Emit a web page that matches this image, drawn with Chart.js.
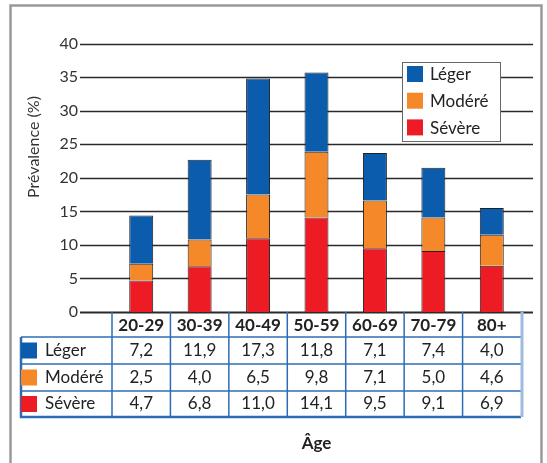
<!DOCTYPE html>
<html>
<head>
<meta charset="utf-8">
<script src="https://cdn.jsdelivr.net/npm/chart.js@4/dist/chart.umd.min.js"></script>
<style>
  html, body { margin: 0; padding: 0; background: #fff; }
</style>
</head>
<body>
<canvas id="myChart" width="547" height="463"></canvas>
<script>
const ageGroups = ["20-29", "30-39", "40-49", "50-59", "60-69", "70-79", "80+"];
const leger = [7.2, 11.9, 17.3, 11.8, 7.1, 7.4, 4.0];
const modere = [2.5, 4.0, 6.5, 9.8, 7.1, 5.0, 4.6];
const severe = [4.7, 6.8, 11.0, 14.1, 9.5, 9.1, 6.9];
const seriesNames = ["Léger", "Modéré", "Sévère"];
const yTitle = "Prévalence (%)";
const xTitle = "Âge";

const blue = "#0b5cad";
const orange = "#f5892a";
const red = "#ed1c24";
const tableBlue = "#2d6cb5";
const textColor = "#222";

Chart.defaults.font.family = "Lato";

// number format with a comma, like the source
const fmt = (v) => v.toFixed(1).replace(".", ",");

const extras = {
  id: "extras",
  beforeDraw(chart) {
    const c = chart.ctx;
    c.save();
    c.fillStyle = "#fff";
    c.fillRect(0, 0, chart.width, chart.height);
    // outer frame
    c.strokeStyle = "#9a9a9a";
    c.lineWidth = 2.5;
    c.strokeRect(10.5, 5.5, 531, 480);
    c.restore();
  },
  beforeDatasetsDraw(chart) {
    const c = chart.ctx;
    const y = chart.scales.y;
    c.save();
    y.ticks.forEach((t) => {
      const py = Math.round(y.getPixelForValue(t.value)) + 0.5;
      c.strokeStyle = "#2a2a2a";
      c.lineWidth = t.value === 0 ? 2 : 1.5;
      c.beginPath();
      c.moveTo(80, py);
      c.lineTo(533, py);
      c.stroke();
    });
    c.restore();
  },
  afterDraw(chart) {
    const c = chart.ctx;
    const area = chart.chartArea;
    const x = chart.scales.x;
    const n = ageGroups.length;
    const colW = (area.right - area.left) / n;
    const top = area.bottom;
    const rows = [top, 337, 364, 391, 417];
    const labelLeft = 21;

    c.save();
    // table lines
    c.strokeStyle = tableBlue;
    c.lineWidth = 1.5;
    for (let r = 1; r < rows.length - 1; r++) {
      c.beginPath();
      c.moveTo(labelLeft, rows[r]);
      c.lineTo(area.right, rows[r]);
      c.stroke();
    }
    for (let i = 0; i < n; i++) {
      const lx = x.getPixelForValue(i) - colW / 2;
      c.beginPath();
      c.moveTo(lx, top);
      c.lineTo(lx, rows[4]);
      c.stroke();
    }
    c.lineWidth = 2.5;
    c.beginPath();
    c.moveTo(labelLeft, rows[1]);
    c.lineTo(labelLeft, rows[4]);
    c.lineTo(area.right, rows[4]);
    c.stroke();
    c.strokeStyle = "#9dbde0";
    c.lineWidth = 3;
    c.beginPath();
    c.moveTo(area.right + 1, top);
    c.lineTo(area.right + 1, rows[4]);
    c.stroke();

    // header
    c.fillStyle = textColor;
    c.textAlign = "center";
    c.textBaseline = "middle";
    c.font = "bold 17px Lato";
    ageGroups.forEach((g, i) => {
      c.fillText(g, x.getPixelForValue(i), (rows[0] + rows[1]) / 2 + 1);
    });

    // body rows
    const tableData = [leger, modere, severe];
    const colors = [blue, orange, red];
    c.font = "17px Lato";
    tableData.forEach((arr, r) => {
      const cy = (rows[r + 1] + rows[r + 2]) / 2;
      c.fillStyle = colors[r];
      c.fillRect(labelLeft, cy - 8, 16, 16);
      c.fillStyle = textColor;
      c.textAlign = "left";
      c.fillText(seriesNames[r], 45, cy);
      c.textAlign = "center";
      arr.forEach((v, i) => {
        c.fillText(fmt(v), x.getPixelForValue(i), cy);
      });
    });

    // legend box
    c.fillStyle = "#fff";
    c.fillRect(402, 62, 98, 79);
    c.strokeStyle = "#666";
    c.lineWidth = 1;
    c.strokeRect(402.5, 62.5, 98, 79);
    c.textAlign = "left";
    seriesNames.forEach((name, i) => {
      const cy = 74 + i * 26.7;
      c.fillStyle = colors[i];
      c.fillRect(407, cy - 8, 16, 16);
      c.fillStyle = textColor;
      c.font = "17px Lato";
      c.fillText(name, 430, cy + 1);
    });

    // axis titles
    c.font = "bold 17px Lato";
    c.textAlign = "center";
    c.fillText(xTitle, (area.left + area.right) / 2, 444);

    c.translate(34, 147);
    c.rotate(-Math.PI / 2);
    c.font = "16px Lato";
    c.fillStyle = "#333";
    c.fillText(yTitle, 0, 0);
    c.restore();
  },
};

const ctx = document.getElementById("myChart");

new Chart(ctx, {
  type: "bar",
  data: {
    labels: ageGroups,
    datasets: [
      { label: seriesNames[2], data: severe, backgroundColor: red },
      { label: seriesNames[1], data: modere, backgroundColor: orange },
      { label: seriesNames[0], data: leger, backgroundColor: blue },
    ],
  },
  options: {
    responsive: false,
    animation: false,
    layout: {
      padding: { left: 0, top: 34, right: 26, bottom: 151 },
    },
    datasets: {
      bar: {
        barPercentage: 0.41,
        categoryPercentage: 1,
        borderColor: "#222",
        borderWidth: 1,
      },
    },
    plugins: {
      legend: { display: false },
      tooltip: { enabled: false },
    },
    scales: {
      x: {
        stacked: true,
        display: false,
      },
      y: {
        stacked: true,
        min: 0,
        max: 40,
        ticks: {
          stepSize: 5,
          padding: 34,
          color: "#333",
          font: { size: 16 },
        },
        grid: { display: false, drawTicks: false },
        border: { display: false },
        afterFit: (scale) => {
          scale.width = 112;
        },
      },
    },
  },
  plugins: [extras],
});
</script>
</body>
</html>
